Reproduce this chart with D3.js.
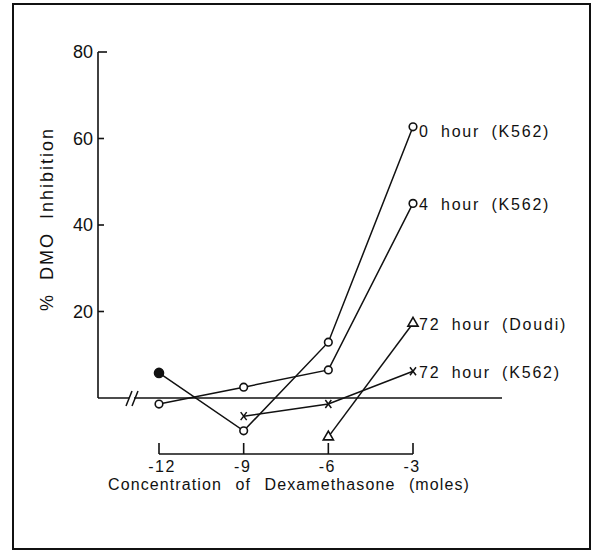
<!DOCTYPE html>
<html>
<head>
<meta charset="utf-8">
<script src="https://cdn.jsdelivr.net/npm/d3@7"></script>
<style>
  body { margin: 0; background: #fff; }
  text { font-family: "Liberation Sans", Arial, sans-serif; fill: #111; }
</style>
</head>
<body>
<div id="chart"></div>
<script>
// values
const concentrations = [-12, -9, -6, -3];
const xTickLabels = ["-12", "-9", "-6", "-3"];
const yTicks = [20, 40, 60, 80];

const hour0 = [5.8, -7.6, 12.9, 62.7];      // 0 hour (K562)
const hour4 = [-1.4, 2.5, 6.5, 45];         // 4 hour (K562)
const doudi72 = [null, null, -9, 17.3];     // 72 hour (Doudi)
const k562_72 = [null, -4.2, -1.4, 6.2];    // 72 hour (K562)

const seriesNames = ["0 hour (K562)", "4 hour (K562)", "72 hour (Doudi)", "72 hour (K562)"];
const seriesValues = [hour0, hour4, doudi72, k562_72];
const seriesMarks = ["circle", "circle", "triangle", "cross"];

const width = 592, height = 551;

let svg = d3.select("#chart")
    .append("svg")
    .attr("width", width)
    .attr("height", height);

// frame
svg.append("rect")
    .attr("x", 13).attr("y", 4)
    .attr("width", 577).attr("height", 545)
    .attr("fill", "none")
    .attr("stroke", "#111")
    .attr("stroke-width", 2);

let x = d3.scaleLinear().domain([-12, -3]).range([159, 413]);
let y = d3.scaleLinear().domain([0, 80]).range([398, 52]);
const axisX = 98;

// y axis
let yAxis = svg.append("g").attr("stroke", "#111").attr("stroke-width", 1.6);
yAxis.append("line")
    .attr("x1", axisX).attr("x2", axisX)
    .attr("y1", y(80)).attr("y2", y(0));
yAxis.selectAll(".ytick")
    .data(yTicks)
    .enter()
    .append("line")
    .attr("x1", axisX).attr("x2", d => axisX + (d == 80 ? 9 : 6))
    .attr("y1", d => y(d)).attr("y2", d => y(d));

svg.selectAll(".ylab")
    .data(yTicks)
    .enter()
    .append("text")
    .attr("x", axisX - 5)
    .attr("y", d => y(d))
    .attr("text-anchor", "end")
    .attr("dominant-baseline", "central")
    .style("font-size", "18px")
    .text(d => d);

svg.append("text")
    .attr("transform", "translate(47,219) rotate(-90)")
    .attr("text-anchor", "middle")
    .attr("dominant-baseline", "central")
    .style("font-size", "18px")
    .style("letter-spacing", "2px")
    .style("word-spacing", "6px")
    .text("% DMO Inhibition");

// zero line with break
svg.append("line")
    .attr("x1", axisX).attr("x2", 502)
    .attr("y1", y(0)).attr("y2", y(0))
    .attr("stroke", "#111").attr("stroke-width", 1.6);
svg.append("rect")
    .attr("x", 129).attr("y", y(0) - 3)
    .attr("width", 5).attr("height", 6)
    .attr("fill", "#fff");
svg.selectAll(".brk")
    .data([126, 132])
    .enter()
    .append("line")
    .attr("x1", d => d).attr("y1", y(0) + 8)
    .attr("x2", d => d + 6).attr("y2", y(0) - 7)
    .attr("stroke", "#111").attr("stroke-width", 1.5);

// x axis (separate, below)
const axisY = 454;
let xAxis = svg.append("g").attr("stroke", "#111").attr("stroke-width", 1.6);
xAxis.append("line")
    .attr("x1", x(-12)).attr("x2", x(-3))
    .attr("y1", axisY).attr("y2", axisY);
xAxis.selectAll(".xtick")
    .data(concentrations)
    .enter()
    .append("line")
    .attr("x1", d => x(d)).attr("x2", d => x(d))
    .attr("y1", axisY).attr("y2", axisY - 11);

svg.selectAll(".xlab")
    .data(concentrations)
    .enter()
    .append("text")
    .attr("x", (d, i) => x(d) + (i == 0 ? 3 : -1))
    .attr("y", 466)
    .attr("text-anchor", "middle")
    .attr("dominant-baseline", "central")
    .style("font-size", "16px")
    .style("letter-spacing", "1.5px")
    .text((d, i) => xTickLabels[i]);

svg.append("text")
    .attr("x", 289)
    .attr("y", 484)
    .attr("text-anchor", "middle")
    .attr("dominant-baseline", "central")
    .style("font-size", "16px")
    .style("letter-spacing", "1.1px")
    .style("word-spacing", "8px")
    .text("Concentration of Dexamethasone (moles)");

// series
let line = d3.line()
    .defined(d => d.v != null)
    .x(d => x(d.c))
    .y(d => y(d.v));

seriesValues.forEach(function (vals, s) {
    let pts = vals.map((v, i) => ({ c: concentrations[i], v: v }));
    svg.append("path")
        .datum(pts)
        .attr("d", line)
        .attr("fill", "none")
        .attr("stroke", "#111")
        .attr("stroke-width", 1.5);

    let g = svg.append("g");
    pts.filter(p => p.v != null).forEach(function (p, i) {
        let px = x(p.c), py = y(p.v);
        if (seriesMarks[s] == "circle") {
            let filled = s == 0 && i == 0;
            g.append("circle")
                .attr("cx", px).attr("cy", py)
                .attr("r", filled ? 4.5 : 3.8)
                .attr("fill", filled ? "#111" : "#fff")
                .attr("stroke", "#111").attr("stroke-width", 1.6);
        } else if (seriesMarks[s] == "triangle") {
            g.append("path")
                .attr("d", d3.symbol().type(d3.symbolTriangle).size(45))
                .attr("transform", `translate(${px},${py})`)
                .attr("fill", "#fff")
                .attr("stroke", "#111").attr("stroke-width", 1.6);
        } else {
            g.append("path")
                .attr("d", "M-3,-4L3,4M3,-4L-3,4")
                .attr("transform", `translate(${px},${py})`)
                .attr("stroke", "#111").attr("stroke-width", 1.5);
        }
    });

    // label at end of series
    let last = pts[pts.length - 1];
    svg.append("text")
        .attr("x", x(last.c) + 6)
        .attr("y", y(last.v) + (s == 0 ? 5 : 1))
        .attr("dominant-baseline", "central")
        .style("font-size", "16px")
        .style("letter-spacing", "1.8px")
        .style("word-spacing", "5px")
        .text(seriesNames[s]);
});
</script>
</body>
</html>
